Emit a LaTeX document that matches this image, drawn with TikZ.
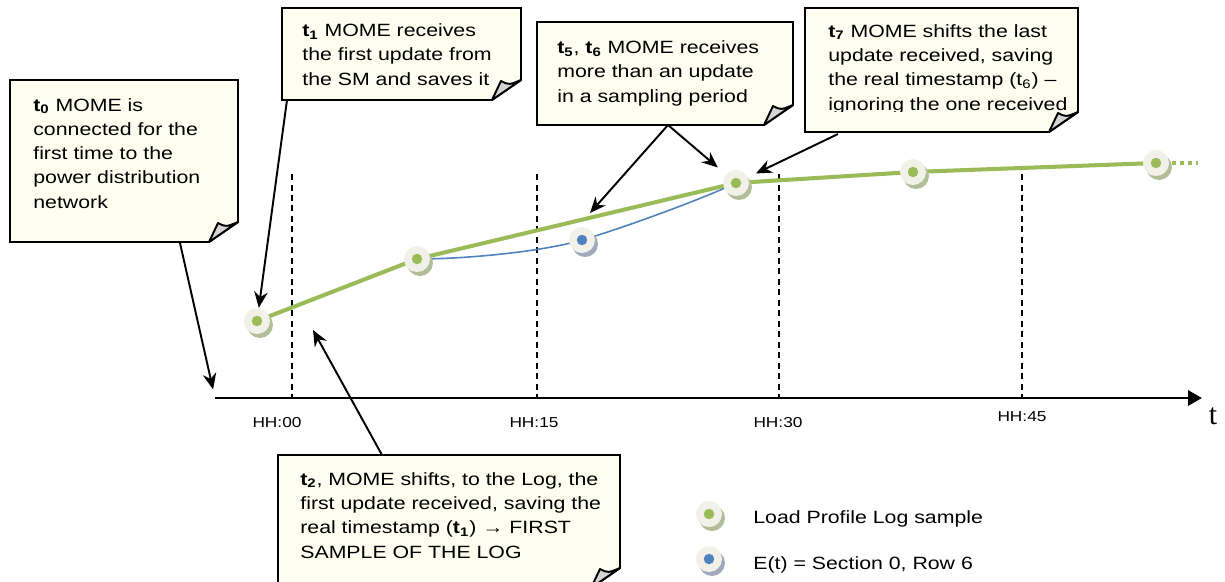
\documentclass[tikz,border=0pt]{standalone}
\usepackage{fontspec}
\setmainfont{Liberation Sans}[FakeStretch=1.2]
\newfontfamily\axisfont{Liberation Serif}
\usetikzlibrary{arrows.meta, shadows}
\definecolor{logGreen}{HTML}{9BBB59}
\definecolor{logBlue}{HTML}{4F81BD}
\definecolor{noteFill}{HTML}{FEFEF0}
\definecolor{foldGray}{HTML}{D4D4D4}
\definecolor{pearl}{HTML}{F2F1E9}
\definecolor{greenShade}{HTML}{B3BD99}
\definecolor{blueShade}{HTML}{A3A9BC}
\tikzset{
  note/.style={fill=noteFill, draw=black, line width=1.1pt, line join=miter},
  fold/.style={fill=foldGray, draw=black, line width=1.1pt, line join=round},
  % anchored at the baseline of the last line
  notetext/.style={anchor=base west, inner sep=0pt, align=left,
    font=\fontsize{10.1}{13.8}\selectfont},
  ticklabel/.style={anchor=base, inner sep=0pt, font=\fontsize{8.2}{10}\selectfont},
  axis/.style={draw, line width=1.7pt, -{Triangle[length=0.28cm, width=0.3cm]}},
  slot/.style={draw, line width=0.8pt, dash pattern=on 0.12cm off 0.09cm},
  pointer/.style={draw, line width=1.1pt, -{Stealth[length=0.32cm, width=0.27cm]}},
  growth/.style={draw=logGreen, line width=2.3pt},
  actual/.style={draw=logBlue, line width=0.9pt},
  sample/.style 2 args={circle, minimum size=0.52cm, inner sep=0pt, fill=pearl,
    drop shadow={shadow xshift=0.06cm, shadow yshift=-0.08cm, fill=#2, opacity=1},
    path picture={\fill[#1] (path picture bounding box.center) circle (0.105cm);}},
}
% note with a folded corner at the bottom right
\newcommand{\notebox}[4]{%
  \filldraw[note] (#1,#2) -- (#3,#2) -- (#3,#4-20) -- (#3-29,#4) -- (#1,#4) -- cycle;
  \filldraw[fold] (#3-29,#4) -- (#3-20,#4-19) .. controls (#3-12,#4-15) .. (#3,#4-20) -- cycle;}

\begin{document}
\begin{tikzpicture}[x=0.02cm, y=-0.02cm]
  \useasboundingbox (0,0) rectangle (1225,582);

  % time axis and sampling slots
  \coordinate (o) at (215,398);
  \coordinate (tend) at (1202,398);
  \foreach \x in {292, 537, 779, 1022}
    \draw[slot] (\x,174) -- (\x,398);
  \draw[axis] (o) -- (tend);
  \node[anchor=base, inner sep=0pt, font=\axisfont\fontsize{17}{17}\selectfont] (tlab) at (1213,424) {t};
  \node[ticklabel] (h00) at (277,427) {HH:00};
  \node[ticklabel] (h15) at (534,427) {HH:15};
  \node[ticklabel] (h30) at (778,427) {HH:30};
  \node[ticklabel] (h45) at (1022,421) {HH:45};

  % samples
  \coordinate (p0) at (257,321);
  \coordinate (p1) at (417,259);
  \coordinate (pb) at (582,240);
  \coordinate (p3) at (736,183);
  \coordinate (p4) at (913,172);
  \coordinate (p5) at (1156,163);
  \coordinate (more) at (1198,163);
  \draw[actual] (p1) .. controls (470,259) and (545,251) .. (pb)
                     .. controls (620,229) and (700,200) .. (p3);
  \draw[growth] (p0) -- (p1) -- (p3) -- (p4) -- (p5);
  \draw[growth, dash pattern=on 0.08cm off 0.08cm] (p5) -- (more);
  \node[sample={logGreen}{greenShade}] (s0) at (p0) {};
  \node[sample={logGreen}{greenShade}] (s1) at (p1) {};
  \node[sample={logBlue}{blueShade}]   (sb) at (pb) {};
  \node[sample={logGreen}{greenShade}] (s3) at (p3) {};
  \node[sample={logGreen}{greenShade}] (s4) at (p4) {};
  \node[sample={logGreen}{greenShade}] (s5) at (p5) {};

  % notes
  \notebox{10}{80}{238}{242}
  \node[notetext] (n0) at (33,208) {\textbf{t\textsubscript{0}} MOME is\\connected for the\\first time to the\\power distribution\\network};
  \notebox{282}{8}{521}{100}
  \node[notetext] (n1) at (302,85) {\textbf{t\textsubscript{1}} MOME receives\\the first update from\\the SM and saves it};
  \notebox{537}{22}{793}{125}
  \node[notetext] (n5) at (557,102) {\textbf{t\textsubscript{5}}, \textbf{t\textsubscript{6}} MOME receives\\more than an update\\in a sampling period};
  \notebox{805}{8}{1078}{132}
  \begin{scope}
    \clip (805,8) rectangle (1066,111);
    \node[notetext] (n7) at (828,110) {\textbf{t\textsubscript{7}} MOME shifts the last\\update received, saving\\the real timestamp (t\textsubscript{6}) --\\ignoring the one received};
  \end{scope}
  \notebox{278}{455}{620}{588}
  \node[notetext] (n2) at (300,558) {\textbf{t\textsubscript{2}}, MOME shifts, to the Log, the\\first update received, saving the\\real timestamp (\textbf{t\textsubscript{1}}) \textbf{→} FIRST\\SAMPLE OF THE LOG};

  % pointers from the notes
  \coordinate (c0) at (180,243);
  \coordinate (c1) at (287,100);
  \coordinate (c5) at (668,125);
  \coordinate (a5) at (590,213);
  \coordinate (c7) at (838,134);
  \coordinate (c2) at (382,455);
  \coordinate (a2) at (313,330);
  \draw[pointer, shorten >=5pt] (c0) -- (o);
  \draw[pointer] (c1) -- (s0);
  \draw[pointer] (c5) -- (a5);
  \draw[pointer, shorten >=6pt] (c5) -- (s3);
  \draw[pointer, shorten >=5pt] (c7) -- (s3);
  \draw[pointer] (c2) -- (a2);

  % legend
  \node[sample={logGreen}{greenShade}] (lg0) at (709,514) {};
  \node[sample={logBlue}{blueShade}]   (lg1) at (709,559) {};
  \node[notetext] (lt0) at (753,523) {Load Profile Log sample};
  \node[notetext] (lt1) at (753,569) {E(t) = Section 0, Row 6};
\end{tikzpicture}
\end{document}
